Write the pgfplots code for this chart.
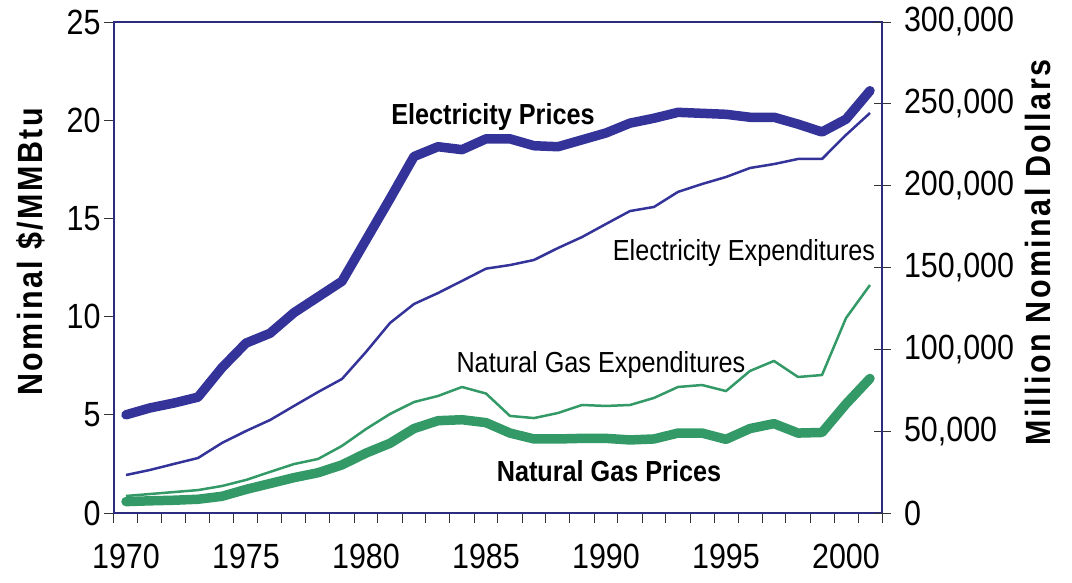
\documentclass[border=0pt]{standalone}
\usepackage{pgfplots}
\pgfplotsset{compat=1.18}
\usetikzlibrary{calc}
\usepackage{fontspec}
\setmainfont{Liberation Sans}[FakeStretch=0.87]
\newfontfamily\titlefont{Liberation Sans}[FakeStretch=0.87,LetterSpace=7]
\definecolor{navy}{HTML}{2B2B80}
\definecolor{eblue}{HTML}{333399}
\definecolor{ggreen}{HTML}{339966}

\pgfplotstableread{
year eprice gprice
1970 5.00 0.58
1971 5.35 0.62
1972 5.60 0.65
1973 5.90 0.70
1974 7.40 0.85
1975 8.65 1.20
1976 9.15 1.50
1977 10.20 1.80
1978 11.00 2.05
1979 11.80 2.45
1980 13.90 3.05
1981 16.00 3.55
1982 18.15 4.30
1983 18.65 4.70
1984 18.50 4.75
1985 19.05 4.60
1986 19.05 4.07
1987 18.70 3.77
1988 18.65 3.77
1989 19.00 3.80
1990 19.35 3.80
1991 19.85 3.72
1992 20.10 3.77
1993 20.40 4.07
1994 20.35 4.07
1995 20.30 3.75
1996 20.15 4.30
1997 20.15 4.55
1998 19.80 4.07
1999 19.40 4.10
2000 20.05 5.55
2001 21.50 6.85
}\prices

\pgfplotstableread{
year eexp gexp
1970 23200 10400
1971 26300 11600
1972 30000 12800
1973 33600 14000
1974 42800 16500
1975 50100 20200
1976 56800 25100
1977 65400 29900
1978 73900 33000
1979 81900 41000
1980 98400 51300
1981 116100 60500
1982 127700 67800
1983 134400 71500
1984 141800 77000
1985 149300 73000
1986 151500 59300
1987 154600 58000
1988 161900 61100
1989 168600 66000
1990 176600 65400
1991 184500 66000
1992 187000 70300
1993 196200 77000
1994 201000 78200
1995 205300 74500
1996 210800 86800
1997 213200 92900
1998 216300 83100
1999 216300 84300
2000 231000 119100
2001 244400 139300
}\expend

\begin{document}
\begin{tikzpicture}
\pgfplotsset{
  every axis/.append style={
    scale only axis, width=768pt, height=491pt,
    xmin=1969.5, xmax=2001.5,
    /pgf/number format/assume math mode=true,
    tick label style={font=\fontsize{35}{40}\selectfont, black},
    every tick/.style={black!80, line width=1pt},
  }
}
\begin{axis}[
  ymin=0, ymax=25, ytick={0,5,...,25},
  axis line style={navy, line width=2pt},
  xtick={1969.5,1970.5,...,2001.5}, xticklabels={},
  extra x ticks={1970,1975,...,2000},
  extra x tick labels={1970,1975,1980,1985,1990,1995,2000},
  extra x tick style={major tick length=0pt, tick label style={yshift=-30pt, inner sep=1pt}},
  xtick pos=bottom, ytick pos=left,
  tick align=outside, major tick length=10pt,
  ylabel={Nominal \$/MMBtu},
  ylabel style={font=\titlefont\bfseries\fontsize{35}{40}\selectfont,
    at={($(axis description cs:0,0.5316)+(-83pt,0pt)$)}, anchor=center},
]
\coordinate (O) at (rel axis cs:0,0);
\addplot[eblue, line width=9.5pt, line cap=round, line join=round] table[x=year,y=eprice]{\prices};
\addplot[ggreen, line width=9.5pt, line cap=round, line join=round] table[x=year,y=gprice]{\prices};
\node[font=\bfseries\fontsize{29}{32}\selectfont, anchor=base] at (axis cs:1985.29,19.76) {Electricity Prices};
\node[font=\bfseries\fontsize{29}{32}\selectfont, anchor=base] at (axis cs:1990.125,1.58) {Natural Gas Prices};
\node[font=\fontsize{29}{32}\selectfont, anchor=base] at (axis cs:1989.79,7.13) {Natural Gas Expenditures};
\node[font=\fontsize{29}{32}\selectfont, anchor=base] at (axis cs:1995.75,12.88) {Electricity Expenditures};
\end{axis}
\begin{axis}[
  ymin=0, ymax=300000, ytick={0,50000,...,300000},
  axis y line*=right, axis x line=none,
  axis line style={navy, line width=2pt},
  scaled y ticks=false,
  yticklabel style={/pgf/number format/.cd, fixed, 1000 sep={,}},
  tick label style={xshift=10pt},
  tick align=center, major tick length=17pt,
  ylabel={Million Nominal Dollars},
  ylabel style={font=\titlefont\bfseries\fontsize{35}{40}\selectfont,
    at={($(axis description cs:1,0.5306)+(156pt,0pt)$)}, anchor=center},
]
\addplot[eblue, line width=2.5pt, line join=round] table[x=year,y=eexp]{\expend};
\addplot[ggreen, line width=2.5pt, line join=round] table[x=year,y=gexp]{\expend};
\end{axis}
\pgfresetboundingbox
\path[use as bounding box] (O) ++(-114pt,-69pt) rectangle ++(1072pt,582pt);
\end{tikzpicture}
\end{document}
